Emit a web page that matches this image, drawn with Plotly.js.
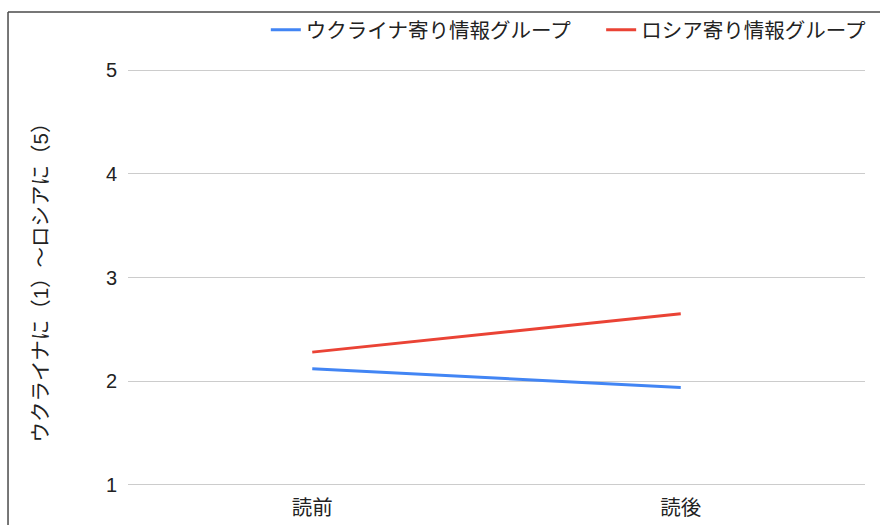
<!DOCTYPE html>
<html>
<head>
<meta charset="utf-8">
<script src="https://cdn.plot.ly/plotly-3.0.1.min.js"></script>
<style>
  html, body { margin: 0; padding: 0; background: #ffffff; }
  #chart { width: 880px; height: 525px; }
</style>
</head>
<body>
<div id="chart"></div>
<script>
const categories = ["読前", "読後"];
const seriesNames = ["ウクライナ寄り情報グループ", "ロシア寄り情報グループ"];
const ukraineValues = [2.12, 1.94];
const russiaValues = [2.28, 2.65];
const yTickValues = [1, 2, 3, 4, 5];
const yTitle = "ウクライナに（1）～ロシアに（5）";

const FONT = "'Liberation Sans', Arial, 'Noto Sans CJK JP', sans-serif";

const traces = [
  {
    x: categories, y: ukraineValues, name: seriesNames[0],
    type: "scatter", mode: "lines", legend: "legend",
    line: { color: "#4285F4", width: 3 }
  },
  {
    x: categories, y: russiaValues, name: seriesNames[1],
    type: "scatter", mode: "lines", legend: "legend2",
    line: { color: "#EA4335", width: 3 }
  }
];

const legendCommon = {
  orientation: "h", xanchor: "left", yanchor: "middle", y: 1.0824,
  font: { family: FONT, size: 20.5, color: "#222222" },
  bgcolor: "rgba(0,0,0,0)", itemwidth: 30
};

const layout = {
  width: 880, height: 525,
  paper_bgcolor: "#ffffff", plot_bgcolor: "#ffffff",
  font: { family: FONT, size: 20, color: "#222222" },
  margin: { l: 128, r: 15, t: 65, b: 35, pad: 0, autoexpand: false },
  showlegend: true,
  legend: Object.assign({}, legendCommon, { x: 0.187 }),
  legend2: Object.assign({}, legendCommon, { x: 0.642 }),
  xaxis: {
    type: "category", range: [-0.5, 1.5],
    showgrid: false, zeroline: false, showline: false, ticks: "",
    ticklabelstandoff: 3,
    tickfont: { family: FONT, size: 20.5, color: "#222222" },
    fixedrange: true
  },
  yaxis: {
    range: [0.95, 5.05], tickvals: yTickValues,
    showgrid: true, gridcolor: "#cccccc", gridwidth: 1,
    zeroline: false, showline: false, ticks: "",
    ticklabelstandoff: 10,
    tickfont: { family: FONT, size: 20, color: "#222222" },
    title: { text: yTitle, standoff: 51, font: { family: FONT, size: 20.5, color: "#222222" } },
    automargin: false, fixedrange: true
  },
  shapes: [
    { type: "line", xref: "paper", yref: "paper", x0: -0.1628, x1: -0.1628, y0: 1.1247, y1: -0.15,
      line: { color: "#4a4a4a", width: 1.5 } },
    { type: "line", xref: "paper", yref: "paper", x0: -0.1628, x1: 1.03, y0: 1.1247, y1: 1.1247,
      line: { color: "#4a4a4a", width: 1.5 } }
  ]
};

Plotly.newPlot("chart", traces, layout, { displayModeBar: false, staticPlot: true });
</script>
</body>
</html>
